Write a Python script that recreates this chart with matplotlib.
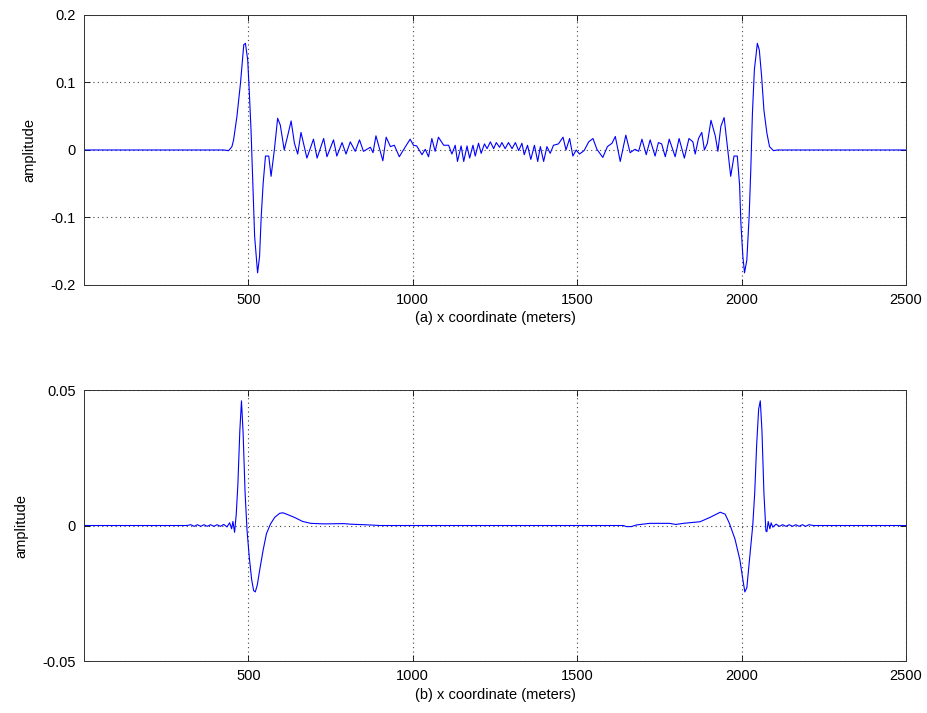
import matplotlib
matplotlib.use('Agg')
import matplotlib.pyplot as plt

plt.rcParams['font.family'] = ['Liberation Sans', 'DejaVu Sans']
plt.rcParams['font.size'] = 10

# (a) upper trace, x in meters, amplitude
xa = [0, 425, 440, 450, 455, 465, 476, 486, 491, 498, 503, 508, 513, 519, 528, 534, 539, 545,
      552, 562, 569, 579, 589, 597, 609, 619, 630, 640, 650, 660, 678, 698, 709, 729, 739, 759,
      769, 785, 797, 810, 825, 838, 850, 871, 879, 888, 909, 919, 932, 944, 959, 974, 992, 1002,
      1012, 1028, 1038, 1048, 1058, 1068, 1078, 1094, 1109, 1119, 1129, 1136, 1147, 1155, 1165,
      1173, 1183, 1190, 1200, 1208, 1218, 1226, 1236, 1246, 1254, 1264, 1271, 1281, 1291, 1302,
      1312, 1322, 1332, 1339, 1349, 1359, 1370, 1380, 1388, 1398, 1408, 1418, 1428, 1443, 1457,
      1466, 1477, 1487, 1497, 1507, 1521, 1535, 1548, 1560, 1578, 1592, 1606, 1616, 1631, 1648,
      1661, 1676, 1687, 1697, 1710, 1722, 1737, 1747, 1757, 1768, 1780, 1798, 1810, 1826, 1840,
      1852, 1859, 1869, 1879, 1887, 1896, 1907, 1920, 1928, 1937, 1947, 1957, 1967, 1977, 1987,
      1994, 1998, 2004, 2009, 2016, 2023, 2028, 2033, 2039, 2048, 2054, 2061, 2068, 2077, 2085,
      2097, 2109, 2500]
ya = [0, 0, -0.001, 0.005, 0.015, 0.049, 0.099, 0.156, 0.158, 0.133, 0.084, 0.030, -0.044,
      -0.128, -0.182, -0.158, -0.099, -0.049, -0.009, -0.009, -0.039, 0.000, 0.047, 0.037, 0.000,
      0.020, 0.043, 0.010, -0.006, 0.026, -0.012, 0.016, -0.012, 0.017, -0.010, 0.015, -0.009,
      0.011, -0.006, 0.012, -0.002, 0.015, -0.002, 0.004, -0.004, 0.021, -0.016, 0.019, 0.005,
      0.007, -0.010, 0.002, 0.016, 0.007, 0.006, -0.007, 0.001, -0.010, 0.017, -0.002, 0.019,
      0.007, 0.007, -0.006, 0.007, -0.017, 0.006, -0.017, 0.006, -0.012, 0.007, -0.009, 0.010,
      -0.005, 0.009, 0.002, 0.012, 0.002, 0.011, 0.004, 0.011, 0.002, 0.011, 0.002, 0.011,
      -0.001, 0.010, -0.007, 0.007, -0.014, 0.007, -0.017, 0.005, -0.017, 0.005, -0.005, 0.007,
      0.009, 0.019, 0.000, 0.017, -0.009, 0.000, -0.006, -0.001, 0.012, 0.017, 0.001, -0.011,
      0.005, 0.010, 0.020, -0.017, 0.022, -0.004, 0.001, -0.002, 0.016, -0.007, 0.015, -0.009,
      0.011, 0.009, -0.010, 0.016, -0.010, 0.017, -0.012, 0.017, 0.012, -0.006, 0.017, 0.026,
      0.000, 0.010, 0.044, 0.021, -0.002, 0.035, 0.048, 0.005, -0.039, -0.009, -0.009, -0.052,
      -0.109, -0.158, -0.182, -0.163, -0.099, -0.030, 0.054, 0.119, 0.158, 0.148, 0.109, 0.059,
      0.025, 0.005, -0.001, 0.000, 0.000]

# (b) lower trace
xb = [0, 313, 325, 335, 345, 355, 365, 375, 385, 395, 405, 415, 425, 435, 443, 449, 453, 458,
      463, 468, 474, 479, 484, 490, 496, 503, 510, 516, 521, 527, 535, 545, 555, 567, 580, 595,
      605, 620, 640, 665, 690, 730, 790, 810, 870, 900, 1640, 1650, 1665, 1680, 1700, 1720,
      1780, 1800, 1823, 1874, 1904, 1935, 1950, 1963, 1980, 1995, 2004, 2010, 2016, 2023, 2034,
      2040, 2046, 2052, 2057, 2062, 2068, 2074, 2077, 2081, 2086, 2090, 2095, 2105, 2115, 2125,
      2135, 2145, 2155, 2165, 2175, 2185, 2195, 2205, 2218, 2500]
yb = [0, 0, 0.0003, -0.0003, 0.0003, -0.0003, 0.0003, -0.0003, 0.0003, -0.0003, 0.0003,
      -0.0003, 0.0004, -0.0005, 0.0010, -0.0012, 0.0015, -0.0025, 0.004, 0.015, 0.035, 0.046,
      0.034, 0.012, -0.002, -0.012, -0.020, -0.024, -0.0245, -0.022, -0.016, -0.009, -0.003,
      0.0005, 0.003, 0.0045, 0.0047, 0.004, 0.003, 0.0015, 0.0008, 0.0006, 0.0007, 0.0005,
      0.0002, 0.0, 0.0, -0.0004, -0.0004, 0.0002, 0.0005, 0.0008, 0.0008, 0.0004, 0.0008,
      0.0014, 0.003, 0.0049, 0.0042, 0.0008, -0.005, -0.0127, -0.020, -0.0245, -0.023, -0.014,
      0.000, 0.012, 0.030, 0.043, 0.046, 0.035, 0.012, -0.002, -0.0023, 0.0015, -0.0012, 0.001,
      -0.0006, 0.0005, -0.0003, 0.0003, -0.0003, 0.0003, -0.0003, 0.0003, -0.0003, 0.0003,
      -0.0003, 0.0003, 0.0, 0.0]

xticks = [500, 1000, 1500, 2000, 2500]
yticks_a = [-0.2, -0.1, 0, 0.1, 0.2]
yticks_b = [-0.05, 0, 0.05]

fig = plt.figure(figsize=(9.27, 7.13), dpi=100)
ax1 = fig.add_axes([0.0906, 0.6003, 0.8867, 0.3787])
ax2 = fig.add_axes([0.0906, 0.0729, 0.8867, 0.3801])

def style_ax(ax, yt, ylabels, lab):
    ax.set_xlim(0, 2500)
    ax.set_xticks(xticks)
    ax.set_xticklabels([str(t) for t in xticks])
    ax.set_yticks(yt)
    ax.set_yticklabels(ylabels)
    ax.set_ylim(yt[0], yt[-1])
    ax.grid(True, linestyle=(0, (1, 3)), color='#444444', linewidth=0.8)
    ax.tick_params(direction='in', top=True, right=True, length=4, width=0.6, pad=6,
                   labelsize=10.5)
    for s in ax.spines.values():
        s.set_linewidth(0.7)
        s.set_color('#333333')
    ax.set_xlabel(lab, fontsize=10.5, labelpad=3)
    ax.set_ylabel('amplitude', fontsize=10.5, labelpad=10)

ax1.plot(xa, ya, color='#0000ff', linewidth=0.8)
style_ax(ax1, yticks_a, ['-0.2', '-0.1', '0', '0.1', '0.2'], '(a) x coordinate (meters)')

ax2.plot(xb, yb, color='#0000ff', linewidth=0.8)
style_ax(ax2, yticks_b, ['-0.05', '0', '0.05'], '(b) x coordinate (meters)')

fig.savefig('out.png', dpi=100)
